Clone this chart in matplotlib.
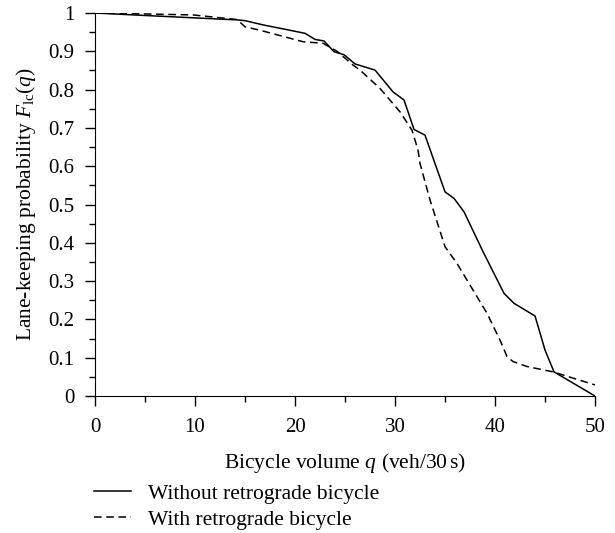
import matplotlib
matplotlib.use("Agg")
import matplotlib.pyplot as plt
from matplotlib.ticker import MultipleLocator

plt.rcParams["font.family"] = "Liberation Serif"
plt.rcParams["mathtext.fontset"] = "custom"
plt.rcParams["mathtext.rm"] = "Liberation Serif"
plt.rcParams["mathtext.it"] = "Liberation Serif:italic"

# without retrograde bicycle
q_without = [0, 6.2, 14.2, 15, 16.8, 21, 22, 22.9, 23.9, 24.9, 26, 28, 29.8, 30.9,
             31.9, 33, 35, 35.9, 36.9, 38.8, 40.9, 41.9, 44, 45, 45.9, 50]
p_without = [1.0, 0.992, 0.982, 0.98, 0.969, 0.947, 0.931, 0.927, 0.899, 0.891, 0.867,
             0.851, 0.794, 0.773, 0.696, 0.681, 0.533, 0.516, 0.481, 0.377, 0.268,
             0.242, 0.209, 0.12, 0.063, 0.0]

# with retrograde bicycle
q_with = [0, 9.8, 14.2, 15, 16.5, 20.8, 22.8, 24.2, 25.8, 26.5, 28.5, 30.5, 31.7,
          32.3, 32.5, 33.5, 35, 36.2, 39.2, 40.5, 41.2, 41.8, 43.2, 45.8, 50]
p_with = [1.0, 0.995, 0.983, 0.964, 0.955, 0.925, 0.921, 0.9, 0.864, 0.851, 0.803,
          0.742, 0.694, 0.642, 0.607, 0.512, 0.39, 0.346, 0.216, 0.146, 0.103, 0.09,
          0.077, 0.063, 0.029]

fig = plt.figure(figsize=(6.15, 5.33), dpi=100)
ax = fig.add_axes([0.1545, 0.257, 0.813, 0.7186])

ax.plot(q_without, p_without, color="black", linewidth=1.1, linestyle="-",
        label="Without retrograde bicycle")
ax.plot(q_with, p_with, color="black", linewidth=1.1, linestyle=(0, (5, 3)),
        label="With retrograde bicycle")

ax.set_xlim(0, 50)
ax.set_ylim(0, 1)
ax.spines["top"].set_visible(False)
ax.spines["right"].set_visible(False)
ax.xaxis.set_major_locator(MultipleLocator(10))
ax.xaxis.set_minor_locator(MultipleLocator(5))
ax.yaxis.set_minor_locator(MultipleLocator(0.05))
ax.set_yticks([i / 10 for i in range(11)])
ax.set_yticklabels(["0"] + [f"{i / 10:.1f}" for i in range(1, 10)] + ["1"])
ax.tick_params(which="major", direction="out", length=7, width=1, labelsize=15, pad=8)
ax.tick_params(which="minor", direction="out", length=4.5, width=1)
ax.tick_params(axis="x", which="major", pad=9)

ax.set_xlabel(r"Bicycle volume $q$ (veh/30$\,$s)", fontsize=15.5, labelpad=10)
ax.set_ylabel(r"Lane-keeping probability $F_{\mathrm{lc}}(q)$", fontsize=15.5, labelpad=7)

fig.legend(loc="upper left", bbox_to_anchor=(0.153, 0.093), frameon=False,
           fontsize=15.5, handlelength=1.7, handletextpad=0.8, labelspacing=0.28,
           borderaxespad=0, borderpad=0)

fig.savefig("out.png", dpi=100)
